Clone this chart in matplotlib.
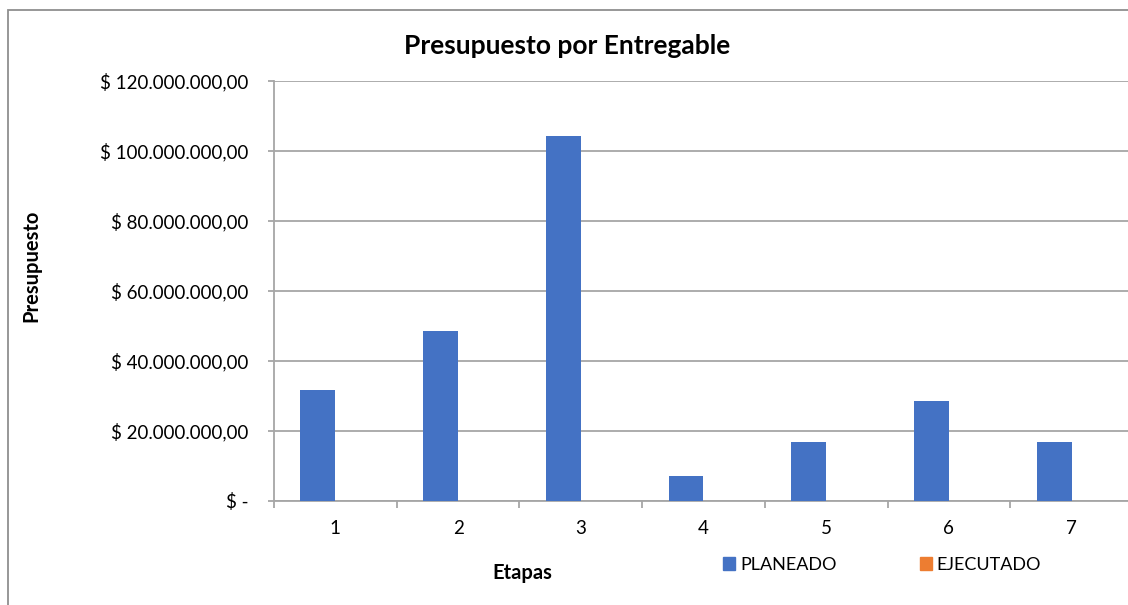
import matplotlib
matplotlib.use("Agg")
import matplotlib.pyplot as plt
import numpy as np
from matplotlib.ticker import FuncFormatter, FixedLocator
from matplotlib.patches import Rectangle, Patch

plt.rcParams['font.family'] = ['Lato', 'DejaVu Sans']

categories = ['1', '2', '3', '4', '5', '6', '7']
planeado = [31.8e6, 48.6e6, 104.2e6, 7.2e6, 16.8e6, 28.5e6, 16.9e6]
ejecutado = [0, 0, 0, 0, 0, 0, 0]
series_names = ['PLANEADO', 'EJECUTADO']
colors = ['#4472C4', '#ED7D31']
title = 'Presupuesto por Entregable'
xlabel = 'Etapas'
ylabel = 'Presupuesto'

W, H = 1128, 605
fig = plt.figure(figsize=(W / 100, H / 100), dpi=100)

# chart border
fig.patches.append(Rectangle((8 / W, -0.1), 1.2, 1 - 10 / H + 0.1, transform=fig.transFigure,
                             fill=False, edgecolor='#8f8f8f', linewidth=1.3, zorder=0))

ax = fig.add_axes([274 / W, 1 - 501 / H, (1133 - 274) / W, (501 - 81) / H])

x = np.arange(1, len(categories) + 1)
w = 0.285
ax.bar(x - w / 2, planeado, width=w, color=colors[0], zorder=3)
ax.bar(x + w / 2, ejecutado, width=w, color=colors[1], zorder=3)

ax.set_xlim(0.5, len(categories) + 0.5)
ax.set_ylim(0, 120e6)
ax.set_yticks(np.arange(0, 120e6 + 1, 20e6))


def fmt(v, pos):
    if abs(v) < 1:
        return '$ -'
    s = f"{v:,.2f}".replace(',', 'X').replace('.', ',').replace('X', '.')
    return '$ ' + s


ax.yaxis.set_major_formatter(FuncFormatter(fmt))
ax.set_xticks(x)
ax.set_xticklabels(categories)
ax.xaxis.set_minor_locator(FixedLocator(np.arange(0.5, len(categories) + 1, 1.0)))
ax.tick_params(axis='x', which='major', length=0, pad=14, labelsize=13.5, labelcolor='#000000')
ax.tick_params(axis='x', which='minor', length=5, width=1.3, color='#a6a6a6', direction='out')
ax.tick_params(axis='y', which='major', length=4.3, width=1.3, color='#a6a6a6', pad=14.4,
               labelsize=13.5, labelcolor='#000000')

ax.grid(axis='y', color='#a6a6a6', linewidth=1.3, zorder=0)
ax.set_axisbelow(True)
for s in ['top', 'right']:
    ax.spines[s].set_visible(False)
for s in ['left', 'bottom']:
    ax.spines[s].set_color('#a6a6a6')
    ax.spines[s].set_linewidth(1.3)

fig.text(567.5 / W, 1 - 54 / H, title, ha='center', va='baseline',
         fontsize=19, fontweight='bold')
fig.text(31 / W, 1 - 266 / H, ylabel, ha='center', va='center', rotation=90,
         fontsize=14.5, fontweight='bold')
fig.text(522 / W, 1 - 573 / H, xlabel, ha='center', va='center',
         fontsize=14.5, fontweight='bold')

handles = [Patch(color=c, label=n) for c, n in zip(colors, series_names)]
fig.legend(handles=handles, loc='center', bbox_to_anchor=(882 / W, 1 - 565 / H), ncol=2,
           frameon=False, fontsize=13, handlelength=0.7, handleheight=0.7,
           handletextpad=0.25, columnspacing=4.6, borderpad=0)

fig.savefig('out.png', dpi=100)
